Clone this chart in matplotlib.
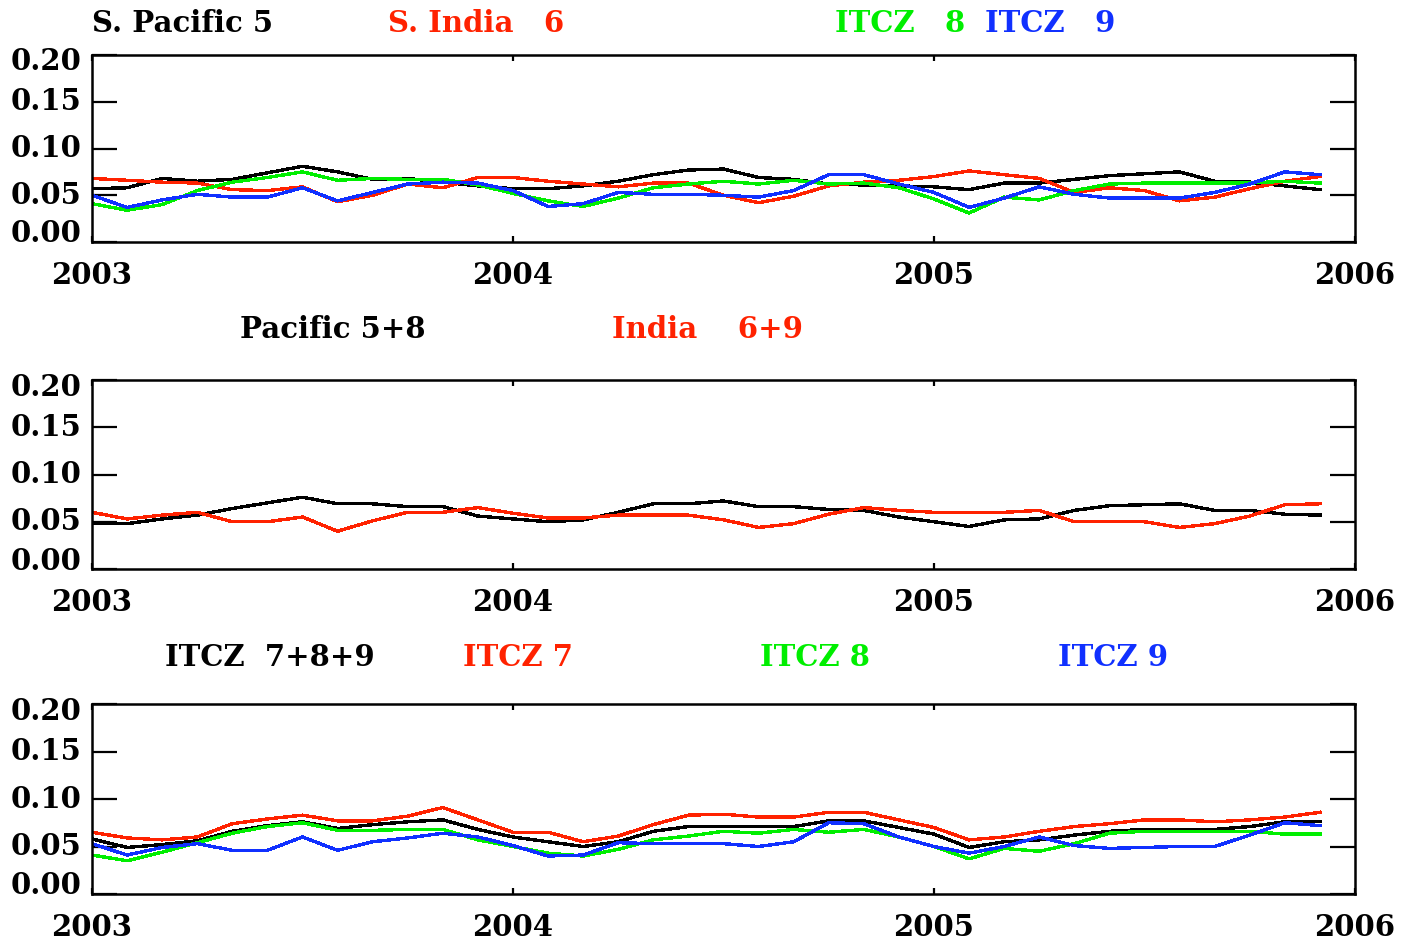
import numpy as np
import matplotlib
matplotlib.use("Agg")
import matplotlib.pyplot as plt
from matplotlib.transforms import ScaledTranslation

# monthly values, Jan 2003 .. Dec 2005
years = 2003 + np.arange(36) / 12

s_pacific_5 = [0.057, 0.058, 0.068, 0.065, 0.067, 0.074, 0.081, 0.075, 0.067, 0.068, 0.064, 0.060,
               0.057, 0.057, 0.060, 0.065, 0.072, 0.077, 0.078, 0.069, 0.067, 0.062, 0.061, 0.060,
               0.059, 0.056, 0.063, 0.063, 0.067, 0.071, 0.073, 0.075, 0.065, 0.064, 0.060, 0.056]
s_india_6 = [0.068, 0.066, 0.064, 0.063, 0.056, 0.055, 0.059, 0.043, 0.050, 0.062, 0.058, 0.069,
             0.069, 0.065, 0.062, 0.059, 0.063, 0.063, 0.050, 0.042, 0.049, 0.060, 0.064, 0.066,
             0.070, 0.076, 0.072, 0.068, 0.053, 0.058, 0.055, 0.044, 0.048, 0.057, 0.065, 0.070]
itcz_8_top = [0.041, 0.034, 0.040, 0.055, 0.064, 0.069, 0.075, 0.066, 0.068, 0.067, 0.067, 0.061,
              0.052, 0.044, 0.038, 0.047, 0.058, 0.062, 0.065, 0.062, 0.066, 0.062, 0.063, 0.058,
              0.046, 0.031, 0.048, 0.045, 0.055, 0.062, 0.063, 0.063, 0.063, 0.063, 0.065, 0.063]
itcz_9_top = [0.050, 0.037, 0.045, 0.051, 0.048, 0.048, 0.058, 0.044, 0.053, 0.062, 0.064, 0.063,
              0.055, 0.038, 0.041, 0.053, 0.051, 0.051, 0.050, 0.048, 0.055, 0.072, 0.072, 0.062,
              0.053, 0.037, 0.047, 0.059, 0.051, 0.047, 0.047, 0.047, 0.053, 0.062, 0.075, 0.072]

pacific_5_8 = [0.048, 0.048, 0.053, 0.057, 0.064, 0.070, 0.076, 0.069, 0.069, 0.066, 0.066, 0.056,
               0.053, 0.050, 0.052, 0.060, 0.069, 0.069, 0.072, 0.066, 0.066, 0.063, 0.062, 0.055,
               0.050, 0.045, 0.052, 0.053, 0.062, 0.067, 0.068, 0.069, 0.062, 0.062, 0.058, 0.057]
india_6_9 = [0.060, 0.053, 0.057, 0.060, 0.050, 0.050, 0.055, 0.040, 0.051, 0.060, 0.060, 0.065,
             0.059, 0.054, 0.054, 0.057, 0.057, 0.057, 0.052, 0.044, 0.048, 0.058, 0.065, 0.062,
             0.060, 0.060, 0.060, 0.062, 0.050, 0.050, 0.050, 0.044, 0.048, 0.056, 0.068, 0.069]

itcz_789 = [0.058, 0.049, 0.052, 0.056, 0.066, 0.072, 0.076, 0.069, 0.073, 0.076, 0.078, 0.068,
            0.060, 0.055, 0.050, 0.055, 0.066, 0.071, 0.071, 0.071, 0.071, 0.077, 0.077, 0.070,
            0.063, 0.049, 0.055, 0.057, 0.062, 0.066, 0.068, 0.068, 0.068, 0.071, 0.076, 0.076]
itcz_7 = [0.065, 0.059, 0.057, 0.060, 0.074, 0.079, 0.083, 0.077, 0.077, 0.082, 0.091, 0.078,
          0.065, 0.065, 0.055, 0.061, 0.073, 0.083, 0.084, 0.081, 0.081, 0.086, 0.086, 0.078,
          0.070, 0.057, 0.060, 0.066, 0.071, 0.074, 0.078, 0.078, 0.076, 0.078, 0.081, 0.086]
itcz_8 = [0.041, 0.035, 0.044, 0.054, 0.064, 0.071, 0.075, 0.067, 0.067, 0.068, 0.068, 0.057,
          0.050, 0.043, 0.040, 0.047, 0.057, 0.061, 0.066, 0.064, 0.068, 0.065, 0.068, 0.060,
          0.050, 0.037, 0.048, 0.045, 0.053, 0.064, 0.066, 0.066, 0.066, 0.066, 0.063, 0.063]
itcz_9 = [0.053, 0.041, 0.049, 0.053, 0.046, 0.046, 0.060, 0.046, 0.055, 0.059, 0.064, 0.060,
          0.051, 0.040, 0.041, 0.054, 0.053, 0.053, 0.053, 0.050, 0.055, 0.075, 0.074, 0.060,
          0.050, 0.043, 0.050, 0.060, 0.051, 0.048, 0.049, 0.050, 0.050, 0.062, 0.075, 0.072]

yticks = [0.00, 0.05, 0.10, 0.15, 0.20]
ytick_labels = ["0.00", "0.05", "0.10", "0.15", "0.20"]
xticks = [2003, 2004, 2005, 2006]

BLACK, RED, GREEN, BLUE = "#000000", "#ff2200", "#00ee00", "#1030ff"
FONT = dict(family="DejaVu Serif", weight="bold", size=21)

panels = [
    ([(s_pacific_5, BLACK), (s_india_6, RED), (itcz_8_top, GREEN), (itcz_9_top, BLUE)],
     [("S. Pacific 5", BLACK, 92), ("S. India   6", RED, 388),
      ("ITCZ   8", GREEN, 835), ("ITCZ   9", BLUE, 985)], 23, (55, 242)),
    ([(pacific_5_8, BLACK), (india_6_9, RED)],
     [("Pacific 5+8", BLACK, 240), ("India    6+9", RED, 612)], 329, (380, 569)),
    ([(itcz_789, BLACK), (itcz_7, RED), (itcz_8, GREEN), (itcz_9, BLUE)],
     [("ITCZ  7+8+9", BLACK, 165), ("ITCZ 7", RED, 463),
      ("ITCZ 8", GREEN, 760), ("ITCZ 9", BLUE, 1058)], 657, (704, 894)),
]

W, H = 1401, 944
fig = plt.figure(figsize=(W / 100, H / 100), dpi=100)

for series, titles, title_y, (top, bottom) in panels:
    ax = fig.add_axes([92 / W, 1 - bottom / H, (1355 - 92) / W, (bottom - top) / H])
    for vals, col in series:
        ax.plot(years, vals, color=col, lw=1.7, antialiased=False)
    ax.set_xlim(2003, 2006)
    ax.set_ylim(0, 0.2)
    for s in ax.spines.values():
        s.set_linewidth(1.8)

    ax.set_yticks(yticks)
    ax.set_yticklabels([])
    ax.tick_params(axis="y", direction="in", length=18, width=1.6, left=True, right=True)
    ax.set_xticks(xticks)
    ax.set_xticklabels([str(x) for x in xticks], **FONT)
    ax.tick_params(axis="x", direction="in", length=4, width=1.6, top=True, bottom=True, pad=14)

    # IDL-style: end labels pulled inside the frame
    ytrans = ax.get_yaxis_transform()
    for v, lab in zip(yticks, ytick_labels):
        shift = 0
        if v == 0.20:
            shift = -7
        elif v == 0.00:
            shift = 8
        tr = ytrans + ScaledTranslation(-10 / 100, shift / 100, fig.dpi_scale_trans)
        ax.text(0, v, lab, transform=tr, ha="right", va="center", **FONT)

    for txt, col, x in titles:
        fig.text(x / W, 1 - title_y / H, txt, color=col, ha="left", va="center", **FONT)

fig.savefig("out.png", dpi=100)
